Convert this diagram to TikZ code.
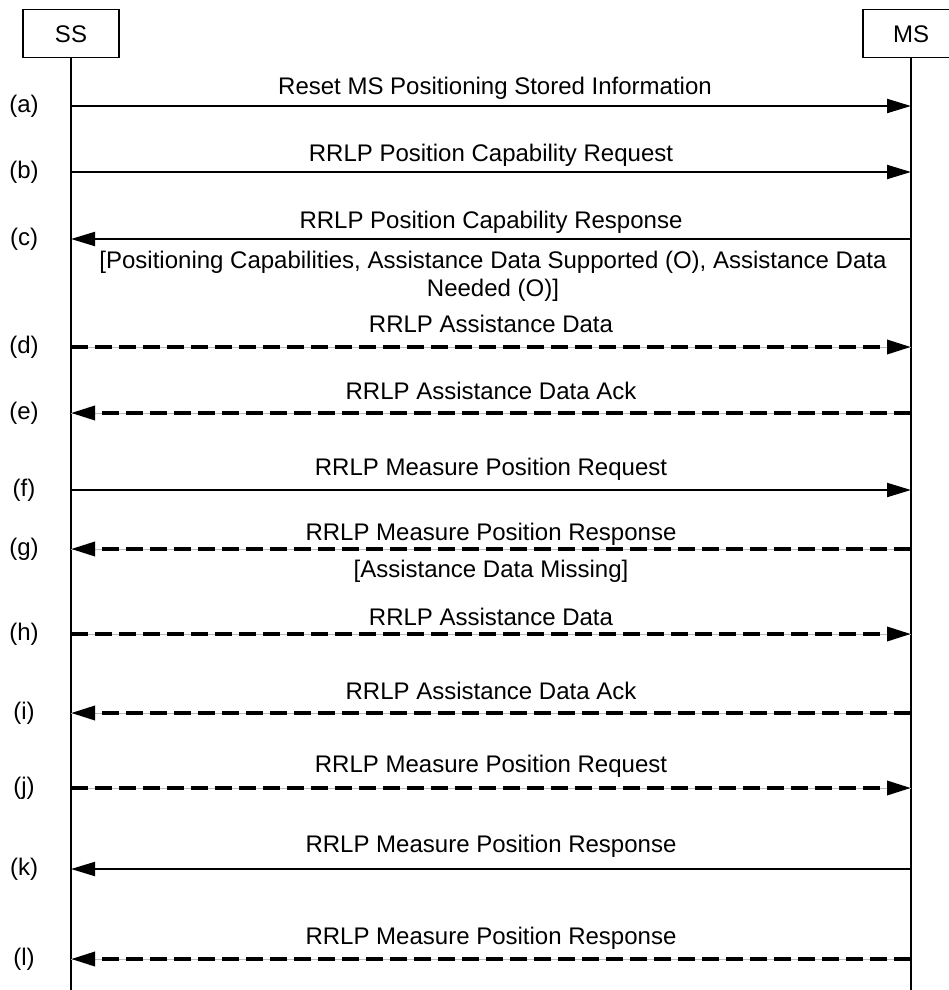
\documentclass[tikz,border=0pt]{standalone}
\usepackage{fontspec}
\setmainfont{Liberation Sans}
\usetikzlibrary{arrows.meta}
\begin{document}
\begin{tikzpicture}[x=1pt,y=-1pt,
  every node/.style={font=\fontsize{24}{28}\selectfont, inner sep=0pt},
  entity/.style={draw, line width=1.5pt, minimum width=96pt, minimum height=48pt, anchor=north},
  lifeline/.style={line width=1.5pt},
  msgsolid/.style={line width=2pt, -{Triangle[length=24pt,width=14pt]}},
  msgdash/.style={line width=3.5pt, dash pattern=on 17pt off 7pt, -{Triangle[length=24pt,width=14pt]},
     preaction={draw, gray!55, line width=1pt, solid, -}},
  steplabel/.style={anchor=center},
  msglabel/.style={anchor=center, align=center}]
\useasboundingbox (0,0) rectangle (949,990);
\clip (0,0) rectangle (949,990);
\fill[white] (0,0) rectangle (949,990);
% entities
\node[entity] (ss) at (71,9) {SS};
\node[entity] (ms) at (911,9) {MS};
\coordinate (ssend) at (71,990);
\coordinate (msend) at (911,990);
\draw[lifeline] (ss.south) -- (ssend);
\draw[lifeline] (ms.south) -- (msend);
% message rows
\foreach \n/\y in {a/106,b/172,c/239,d/347,e/413,f/490,g/549,h/634,i/713,j/788,k/869,l/959}{
  \coordinate (ss\n) at (71,\y);
  \coordinate (ms\n) at (911,\y);
  \node[steplabel] (lab\n) at (24,\y) {(\n)};
}
% (a)
\draw[msgsolid] (ssa) -- (msa);
\node[msglabel] (ta) at (495,88) {Reset MS Positioning Stored Information};
% (b)
\draw[msgsolid] (ssb) -- (msb);
\node[msglabel] (tb) at (491,155) {RRLP Position Capability Request};
% (c)
\draw[msgsolid] (msc) -- (ssc);
\node[msglabel] (tc) at (491,222) {RRLP Position Capability Response};
\node[msglabel] (tc2) at (493,276) {[Positioning Capabilities, Assistance Data Supported (O), Assistance Data\\Needed (O)]};
% (d)
\draw[msgdash] (ssd) -- (msd);
\node[msglabel] (td) at (491,324) {RRLP Assistance Data};
% (e)
\draw[msgdash] (mse) -- (sse);
\node[msglabel] (te) at (491,391) {RRLP Assistance Data Ack};
% (f)
\draw[msgsolid] (ssf) -- (msf);
\node[msglabel] (tf) at (491,469) {RRLP Measure Position Request};
% (g)
\draw[msgdash] (msg) -- (ssg);
\node[msglabel] (tg) at (491,534) {RRLP Measure Position Response};
\node[msglabel] (tg2) at (491,571) {[Assistance Data Missing]};
% (h)
\draw[msgdash] (ssh) -- (msh);
\node[msglabel] (th) at (491,617) {RRLP Assistance Data};
% (i)
\draw[msgdash] (msi) -- (ssi);
\node[msglabel] (ti) at (491,691) {RRLP Assistance Data Ack};
% (j)
\draw[msgdash] (ssj) -- (msj);
\node[msglabel] (tj) at (491,766) {RRLP Measure Position Request};
% (k)
\draw[msgsolid] (msk) -- (ssk);
\node[msglabel] (tk) at (491,846) {RRLP Measure Position Response};
% (l)
\draw[msgdash] (msl) -- (ssl);
\node[msglabel] (tl) at (491,938) {RRLP Measure Position Response};
\end{tikzpicture}
\end{document}
